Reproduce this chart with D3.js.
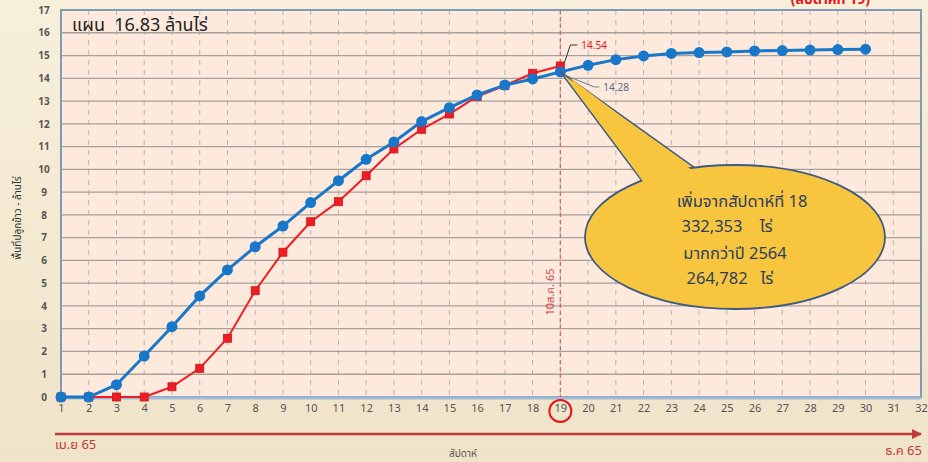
<!DOCTYPE html>
<html lang="th">
<head>
<meta charset="UTF-8">
<script src="https://cdn.jsdelivr.net/npm/d3@7"></script>
<style>
  body { margin: 0; padding: 0; overflow: hidden; background: #f6ecd5; font-family: Tahoma, "Noto Sans Thai", "DejaVu Sans", sans-serif; }
  svg text { font-family: Tahoma, "Noto Sans Thai", "DejaVu Sans", sans-serif; white-space: pre; }
</style>
</head>
<body>
<script>
  // weeks 1..30 (week numbers on x)
  const weeks = d3.range(1, 31);
  // blue line: this year's plan curve (million rai)
  const planValues = [0, 0, 0.54, 1.8, 3.09, 4.44, 5.58, 6.6, 7.51, 8.54, 9.5, 10.44, 11.2, 12.1, 12.71, 13.27, 13.7, 13.97, 14.28,
    14.57, 14.82, 14.98, 15.09, 15.13, 15.16, 15.2, 15.22, 15.24, 15.26, 15.28];
  // red line: actual planted area, ends at week 19
  const actualValues = [0, 0, 0, 0, 0.45, 1.26, 2.58, 4.67, 6.36, 7.7, 8.58, 9.72, 10.9, 11.76, 12.43, 13.2, 13.68, 14.22, 14.54];
  const xTicks = d3.range(1, 33);
  const yTicks = d3.range(0, 18);
  const markWeek = 19;

  const W = 928, H = 462;
  const svg = d3.select('body').append('svg').attr('width', W).attr('height', H);

  // background gradient
  const defs = svg.append('defs');
  const bg = defs.append('linearGradient').attr('id', 'bg').attr('x1', 0).attr('y1', 0).attr('x2', 0).attr('y2', 1);
  bg.append('stop').attr('offset', 0).attr('stop-color', '#f8efdb');
  bg.append('stop').attr('offset', 1).attr('stop-color', '#efe4c8');
  svg.append('rect').attr('width', W).attr('height', H).attr('fill', 'url(#bg)');

  const x = d3.scaleLinear().domain([1, 32]).range([61, 921]);
  const y = d3.scaleLinear().domain([0, 17]).range([397, 10]);

  // plot area
  svg.append('rect')
    .attr('x', x(1)).attr('y', y(17))
    .attr('width', x(32) - x(1)).attr('height', y(0) - y(17))
    .attr('fill', '#fdeadc');

  // vertical dashed grid
  svg.append('g').selectAll('line')
    .data(xTicks.filter(d => d > 1 && d < 32))
    .enter().append('line')
    .attr('x1', d => x(d)).attr('x2', d => x(d))
    .attr('y1', y(17)).attr('y2', y(0))
    .attr('stroke', '#b8b4b4').attr('stroke-width', 1).attr('stroke-dasharray', '5,5');

  // horizontal grid
  svg.append('g').selectAll('line')
    .data(yTicks.filter(d => d > 0 && d < 17))
    .enter().append('line')
    .attr('x1', x(1)).attr('x2', x(32))
    .attr('y1', d => y(d)).attr('y2', d => y(d))
    .attr('stroke', '#a8a09c').attr('stroke-width', 1.3);

  // plot border
  svg.append('rect')
    .attr('x', x(1)).attr('y', y(17))
    .attr('width', x(32) - x(1)).attr('height', y(0) - y(17))
    .attr('fill', 'none').attr('stroke', '#8099b5').attr('stroke-width', 2);
  svg.append('line')
    .attr('x1', x(1)).attr('x2', x(32)).attr('y1', y(0) + 1).attr('y2', y(0) + 1)
    .attr('stroke', '#9fbad6').attr('stroke-width', 3);

  // axes
  const yAxis = svg.append('g').attr('transform', 'translate(49,0)')
    .call(d3.axisLeft(y).tickValues(yTicks).tickSize(0).tickPadding(0).tickFormat(d3.format('d')));
  yAxis.select('.domain').remove();
  yAxis.selectAll('text').attr('fill', '#555').attr('font-size', 10).attr('font-weight', 'bold')
    .attr('text-anchor', 'middle').attr('dx', -5);

  const xAxis = svg.append('g').attr('transform', 'translate(0,404)')
    .call(d3.axisBottom(x).tickValues(xTicks).tickSize(0).tickPadding(0).tickFormat(d3.format('d')));
  xAxis.select('.domain').remove();
  xAxis.selectAll('text').attr('fill', '#555').attr('font-size', 11);

  // circle around the current week
  svg.append('circle').attr('cx', x(markWeek)).attr('cy', 411).attr('r', 11)
    .attr('fill', 'none').attr('stroke', '#e8131b').attr('stroke-width', 2);

  // axis titles
  svg.append('text')
    .attr('transform', 'translate(21,218) rotate(-90)')
    .attr('text-anchor', 'middle').attr('font-size', 10).attr('fill', '#333')
    .text('พื้นที่ปลูกข้าว - ล้านไร่');
  svg.append('text').attr('x', 463).attr('y', 457).attr('text-anchor', 'middle')
    .attr('font-size', 10).attr('fill', '#555').text('สัปดาห์');

  // timeline arrow
  defs.append('marker').attr('id', 'arr').attr('viewBox', '0 0 10 10').attr('refX', 9).attr('refY', 5)
    .attr('markerWidth', 4).attr('markerHeight', 4).attr('orient', 'auto')
    .append('path').attr('d', 'M0,0L10,5L0,10Z').attr('fill', '#c0393b');
  svg.append('line').attr('x1', 55).attr('x2', 921).attr('y1', 434).attr('y2', 434)
    .attr('stroke', '#c0393b').attr('stroke-width', 2.5).attr('marker-end', 'url(#arr)');
  svg.append('text').attr('x', 55).attr('y', 449).attr('font-size', 13).attr('fill', '#c0393b').text('เม.ย 65');
  svg.append('text').attr('x', 922).attr('y', 455).attr('text-anchor', 'end').attr('font-size', 13)
    .attr('fill', '#c0393b').text('ธ.ค 65');

  // top-right header, cut by the top edge as in the source slide
  svg.append('text').attr('x', 870).attr('y', 4).attr('text-anchor', 'end').attr('font-size', 14)
    .attr('font-weight', 'bold').attr('fill', '#e8131b').text('(สัปดาห์ที่ 19)');

  // plan title
  svg.append('text').attr('x', 72).attr('y', 31).attr('font-size', 18).attr('fill', '#222')
    .text('แผน  16.83 ล้านไร่');

  // vertical marker line at week 19
  svg.append('line').attr('x1', x(markWeek)).attr('x2', x(markWeek)).attr('y1', y(17)).attr('y2', y(0))
    .attr('stroke', '#d9646a').attr('stroke-width', 1.3).attr('stroke-dasharray', '4,3');
  svg.append('text')
    .attr('transform', `translate(${x(markWeek) - 6},292) rotate(-90)`)
    .attr('text-anchor', 'middle').attr('font-size', 11).attr('fill', '#d0434a')
    .text('10ส.ค. 65');

  // red actual line
  const redLine = d3.line().x((d, i) => x(weeks[i])).y(d => y(d));
  svg.append('path').datum(actualValues).attr('d', redLine)
    .attr('fill', 'none').attr('stroke', '#f01c24').attr('stroke-width', 2);
  svg.append('g').selectAll('rect').data(actualValues).enter().append('rect')
    .attr('x', (d, i) => x(weeks[i]) - 4).attr('y', d => y(d) - 4)
    .attr('width', 8).attr('height', 8)
    .attr('fill', '#f01c24').attr('stroke', '#c4161c').attr('stroke-width', 0.8);

  // blue plan line
  const blueLine = d3.line().x((d, i) => x(weeks[i])).y(d => y(d));
  svg.append('path').datum(planValues).attr('d', blueLine)
    .attr('fill', 'none').attr('stroke', '#1877c9').attr('stroke-width', 3);
  svg.append('g').selectAll('circle').data(planValues).enter().append('circle')
    .attr('cx', (d, i) => x(weeks[i])).attr('cy', d => y(d)).attr('r', 5.5)
    .attr('fill', '#1877c9');

  // value labels at week 19
  const redLast = actualValues[actualValues.length - 1];
  const blueWk = planValues[markWeek - 1];
  svg.append('path')
    .attr('d', `M${x(markWeek) + 4},${y(redLast) - 3}L${x(markWeek) + 10},${y(redLast) - 21}L${x(markWeek) + 17},${y(redLast) - 21}`)
    .attr('fill', 'none').attr('stroke', '#333').attr('stroke-width', 1);
  svg.append('text').attr('x', x(markWeek) + 21).attr('y', y(redLast) - 17)
    .attr('font-size', 10).attr('fill', '#e8131b').text(d3.format('.2f')(redLast));
  svg.append('path')
    .attr('d', `M${x(markWeek) + 4},${y(blueWk) + 3}L${x(markWeek) + 34},${y(blueWk) + 15}L${x(markWeek) + 39},${y(blueWk) + 15}`)
    .attr('fill', 'none').attr('stroke', '#6a7a96').attr('stroke-width', 1);
  svg.append('text').attr('x', x(markWeek) + 43).attr('y', y(blueWk) + 19)
    .attr('font-size', 10).attr('fill', '#5a6a88').text(d3.format('.2f')(blueWk));

  // callout bubble
  const cx = 735, cy = 237, rx = 150, ry = 72;
  const bubble = svg.append('g');
  bubble.append('path')
    .attr('d', `M${x(markWeek)},${y(blueWk)}L${642},${181}L${695},${168}Z`)
    .attr('fill', '#f8c63e').attr('stroke', '#3f5b82').attr('stroke-width', 1.5);
  bubble.append('ellipse').attr('cx', cx).attr('cy', cy).attr('rx', rx).attr('ry', ry)
    .attr('fill', '#f8c63e').attr('stroke', '#3f5b82').attr('stroke-width', 1.8);
  // cover the seam where the pointer joins the ellipse
  bubble.append('path')
    .attr('d', `M${x(markWeek) + 10},${y(blueWk) + 6}L${644},${183}L${693},${171}Z`)
    .attr('fill', '#f8c63e');

  const calloutLines = [
    { t: 'เพิ่มจากสัปดาห์ที่ 18', x: 742, y: 207 },
    { t: '332,353    ไร่', x: 727, y: 232 },
    { t: 'มากกว่าปี 2564', x: 735, y: 259 },
    { t: '264,782   ไร่', x: 730, y: 284 }
  ];
  bubble.selectAll('text.c').data(calloutLines).enter().append('text')
    .attr('x', d => d.x).attr('y', d => d.y).attr('text-anchor', 'middle')
    .attr('font-size', 16.5).attr('fill', '#2d3f5e')
    .text(d => d.t);
</script>
</body>
</html>
